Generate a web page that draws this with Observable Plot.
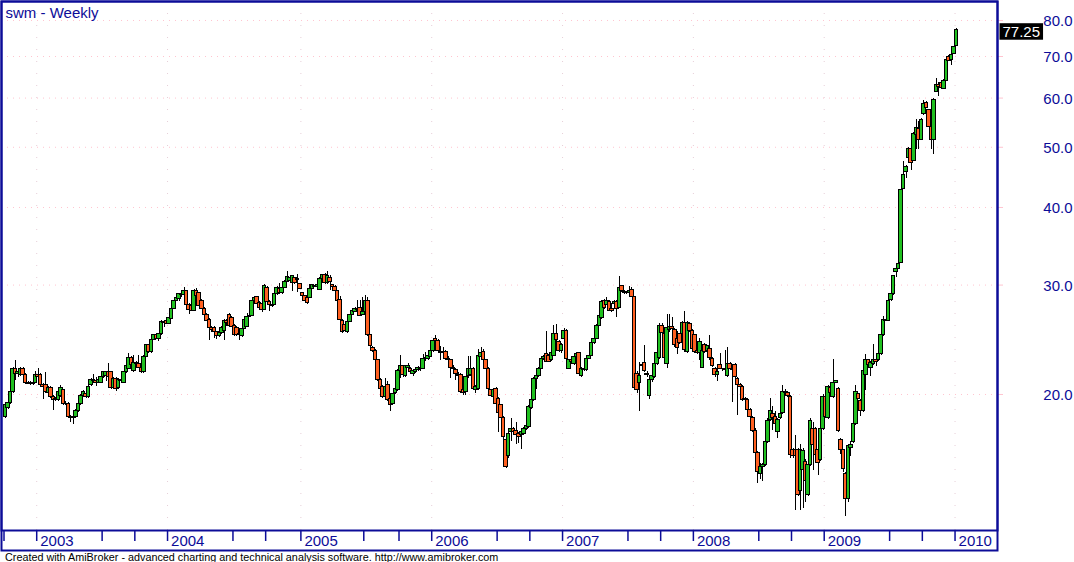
<!DOCTYPE html>
<html><head><meta charset="utf-8">
<script src="https://cdn.jsdelivr.net/npm/d3@7"></script>
<script src="https://cdn.jsdelivr.net/npm/@observablehq/plot@0.6"></script>
<style>
html,body{margin:0;padding:0;background:#fff;}
#chart svg{display:block;}
#caption{font-family:"Liberation Sans",Arial,sans-serif;font-size:10.8px;line-height:11px;height:11px;padding-left:5px;color:#000;white-space:nowrap;}
</style></head><body>
<div id="chart"></div>
<div id="caption"></div>
<script>
const title = "swm - Weekly";
const caption = "Created with AmiBroker - advanced charting and technical analysis software. http://www.amibroker.com";

const open = [
18.4,19.0,19.4,20.2,22.0,21.6,21.5,22.0,21.5,20.9,
20.8,20.8,20.9,21.5,21.5,20.7,20.7,20.1,20.5,19.8,
19.6,19.6,19.9,20.3,19.3,19.3,18.4,18.3,18.4,18.8,
19.3,19.9,20.0,19.8,20.7,21.1,21.0,20.9,20.9,21.3,
21.4,21.7,21.7,20.5,21.2,20.5,21.1,20.9,21.7,22.0,
22.9,21.8,22.5,22.4,22.1,21.7,23.0,24.0,23.4,24.5,
24.9,24.6,25.0,26.2,26.3,26.0,26.5,27.5,28.3,28.5,
29.0,28.9,29.3,27.9,27.8,27.3,29.3,29.1,28.3,27.5,
26.9,26.4,25.6,25.6,25.2,24.8,25.1,25.3,26.3,26.9,
26.6,25.8,25.6,24.9,24.8,25.5,25.7,26.7,26.8,28.3,
28.7,28.1,28.0,27.4,29.7,28.2,27.8,27.9,29.0,29.6,
29.1,29.7,30.4,30.5,30.2,30.8,30.6,30.1,29.1,28.8,
28.6,28.6,29.6,29.9,29.8,29.5,30.7,31.1,30.2,30.8,
30.0,29.8,29.3,28.4,26.3,25.9,25.2,26.2,26.9,27.2,
27.5,27.6,26.9,27.2,28.3,24.9,23.8,23.5,22.7,21.1,
20.6,19.8,20.7,19.7,19.3,20.1,20.3,21.8,22.2,21.4,
22.1,22.0,21.6,21.7,21.9,22.1,22.0,22.8,22.8,23.0,
23.5,24.6,24.4,23.4,23.3,23.4,22.8,22.7,22.1,21.9,
21.5,21.5,20.3,20.2,21.4,21.5,22.0,20.3,20.4,23.0,
23.4,22.7,22.0,20.3,19.8,20.4,19.7,19.2,18.3,16.9,
15.9,17.4,17.6,17.5,17.3,17.2,17.3,17.6,17.7,19.0,
19.6,21.2,21.4,22.0,22.8,23.2,23.1,22.7,23.1,25.0,
24.3,23.5,24.6,25.3,22.0,22.7,22.4,23.0,23.3,21.4,
22.0,21.9,22.8,23.1,24.2,24.6,25.8,26.6,28.3,27.9,
28.2,27.5,28.0,28.2,27.6,29.9,29.2,29.1,29.1,29.5,
28.7,21.6,20.9,22.2,22.5,21.6,19.9,21.1,21.3,22.4,
22.9,25.8,25.0,22.4,25.4,25.7,25.4,24.6,25.0,25.0,
26.1,23.4,26.0,25.3,24.9,23.5,23.3,22.1,24.0,23.5,
23.7,22.8,22.0,21.5,22.3,21.9,21.9,21.4,22.4,22.0,
22.3,21.2,20.7,20.6,19.7,19.6,18.9,18.3,17.5,16.1,
14.9,15.3,15.4,16.8,18.2,18.6,18.4,17.4,18.3,18.7,
20.2,20.1,19.8,16.3,16.3,16.3,14.0,15.1,15.6,13.8,
15.4,17.6,17.6,16.3,15.7,17.6,19.8,18.3,20.5,19.8,
20.9,20.4,16.9,16.3,14.9,13.6,16.4,16.8,17.9,20.0,
19.5,18.8,21.5,22.7,22.1,22.4,22.7,22.7,23.2,24.9,
26.3,26.3,28.4,29.0,31.5,31.9,32.6,42.8,45.6,48.0,
49.7,47.5,52.3,53.5,51.3,56.5,59.0,57.5,54.0,51.3,
61.3,63.0,63.5,62.0,64.0,69.8,69.2,70.7,72.8];

const high = [
19.3,19.5,20.3,22.1,22.7,22.0,22.1,22.1,21.6,21.0,
21.0,20.9,21.8,22.0,21.6,20.8,21.7,20.6,20.6,19.9,
19.8,20.2,20.7,20.4,19.5,19.4,18.5,18.5,18.9,19.4,
20.0,20.3,20.1,20.7,21.2,21.5,21.3,21.2,21.5,21.8,
21.8,22.4,21.8,21.3,21.3,21.2,21.2,21.8,22.3,23.3,
23.0,23.1,22.6,23.1,22.2,23.1,24.1,24.1,24.6,25.0,
25.0,25.1,26.3,26.3,26.4,26.7,27.6,28.4,28.8,29.1,
29.1,29.7,29.4,28.0,27.9,29.5,29.6,29.2,28.4,27.6,
27.0,26.5,25.7,25.7,25.3,25.2,25.7,26.4,26.4,27.0,
26.7,25.9,25.7,25.1,25.6,26.5,27.0,26.9,28.4,28.8,
28.8,28.2,28.1,30.1,29.8,28.3,28.0,29.1,29.8,30.2,
29.8,30.5,31.6,30.9,31.1,30.9,31.2,30.2,29.2,28.9,
28.7,30.1,30.1,30.0,30.4,30.8,31.2,31.3,31.5,31.1,
30.1,29.9,29.4,28.8,26.4,26.0,26.3,27.0,27.4,27.6,
28.3,28.3,28.6,28.9,28.7,25.0,23.9,23.6,22.8,21.2,
20.7,21.2,21.0,19.8,20.1,20.5,21.9,23.1,22.3,22.3,
22.4,22.1,21.9,22.0,22.2,22.2,23.2,23.4,23.2,23.6,
24.5,24.9,24.5,23.9,23.8,23.5,23.0,22.8,22.3,22.0,
21.7,21.6,20.4,21.4,23.0,23.0,22.1,20.7,23.6,23.8,
23.6,22.8,22.1,20.4,20.4,20.5,19.8,19.3,18.4,17.0,
17.6,18.3,17.7,18.0,17.4,17.5,17.7,17.9,19.2,19.7,
21.3,21.5,22.1,22.9,23.1,25.3,23.2,23.6,25.8,25.9,
24.4,24.2,25.5,25.4,22.8,22.8,23.1,23.3,23.4,22.1,
22.1,22.9,23.2,24.3,24.7,25.9,26.9,28.3,28.4,28.6,
28.3,28.0,28.3,28.3,31.0,30.0,29.4,29.3,29.8,29.7,
28.8,21.8,22.5,22.4,24.0,21.8,21.2,21.6,22.6,23.4,
26.0,26.0,25.1,26.9,26.9,26.6,25.5,25.3,25.1,26.2,
27.2,26.2,26.1,25.4,24.9,23.6,24.6,23.6,24.2,24.0,
24.9,22.9,22.1,21.9,23.3,22.0,23.5,23.8,22.5,22.1,
22.4,21.3,20.8,20.7,19.8,19.7,19.0,18.4,17.6,16.2,
15.5,15.5,16.9,18.3,19.7,19.1,18.8,18.3,18.7,20.7,
20.4,20.2,19.9,16.4,17.2,16.4,16.6,16.4,15.7,15.4,
18.3,18.0,17.7,16.4,17.8,20.0,19.9,20.7,20.6,22.8,
21.1,20.5,17.0,16.3,15.0,16.6,16.8,18.3,20.7,20.1,
19.6,22.1,23.2,22.8,22.6,24.1,22.8,23.6,25.0,26.7,
26.5,28.4,29.4,31.1,31.9,32.9,42.8,47.5,46.7,50.0,
49.8,52.8,55.4,55.0,55.6,59.5,59.2,57.6,54.1,60.0,
64.5,63.5,63.6,64.3,69.1,70.2,70.6,72.6,77.6];

const low = [
18.3,18.9,19.3,20.1,21.1,21.3,21.4,21.4,20.8,20.8,
20.7,20.7,20.8,20.8,20.6,19.6,20.1,20.0,19.7,18.85,
19.5,19.5,19.8,19.2,19.2,18.3,18.0,17.9,18.3,18.7,
19.2,19.8,19.7,19.7,20.6,20.8,20.6,20.8,20.8,21.2,
21.0,21.2,20.4,20.4,20.2,20.4,20.9,20.8,21.6,21.9,
22.2,21.7,22.3,22.0,21.6,21.6,22.9,23.3,23.3,24.4,
24.5,24.3,24.9,25.6,25.9,25.9,26.4,27.4,28.2,28.2,
28.7,28.8,27.8,26.9,27.2,27.2,28.7,27.7,27.4,26.8,
26.2,24.4,25.2,24.6,24.5,24.7,25.0,24.4,25.7,25.7,
25.6,24.8,24.8,24.4,24.7,25.4,25.6,26.6,26.7,28.2,
27.9,27.5,27.1,27.3,28.1,27.2,27.6,27.8,28.9,29.0,
29.0,29.6,30.3,30.4,29.3,30.1,29.2,29.5,28.6,28.2,
27.9,28.5,29.5,29.7,29.7,29.4,30.6,30.1,30.1,29.4,
29.7,29.3,28.2,26.3,25.1,25.2,25.1,26.1,26.8,27.1,
27.0,26.7,26.8,27.1,24.8,23.8,23.4,22.6,21.0,20.2,
19.7,19.7,19.5,18.8,19.2,20.0,20.2,21.2,21.3,21.3,
21.9,21.5,21.4,21.6,21.8,21.8,21.9,22.6,22.7,22.9,
23.4,24.3,23.4,22.7,22.9,22.7,22.3,21.2,21.8,21.1,
21.2,20.1,19.9,19.9,21.2,21.4,20.3,20.1,20.3,22.9,
22.6,21.9,20.3,19.8,19.7,19.2,17.4,18.2,16.9,15.2,
15.8,16.8,17.2,16.6,16.7,16.3,17.2,17.5,17.6,18.9,
19.5,20.4,21.3,21.9,22.7,22.5,22.5,22.6,23.0,24.3,
23.4,23.3,24.4,22.6,21.9,22.5,22.3,22.9,21.5,21.3,
21.8,21.8,22.8,23.0,24.1,24.5,25.7,26.4,27.4,27.8,
27.2,27.1,27.9,26.6,27.5,29.2,29.0,29.0,28.9,28.6,
20.4,20.1,18.8,22.1,21.7,21.3,19.6,20.9,21.2,22.3,
22.8,25.0,22.8,22.0,25.2,25.4,23.8,23.2,24.1,24.9,
23.4,23.3,25.2,23.6,23.3,23.2,22.7,22.0,23.3,23.1,
22.7,22.1,21.3,21.0,21.9,21.8,21.8,21.3,21.9,19.4,
21.2,18.5,20.5,19.5,19.5,18.8,18.3,17.4,15.9,14.4,
14.6,14.5,15.3,16.7,18.1,17.5,17.7,17.0,18.2,18.6,
20.0,19.8,15.8,15.8,13.0,13.7,13.0,13.1,13.4,13.7,
15.3,15.1,15.5,14.8,15.6,17.5,18.3,18.2,20.0,19.7,
20.8,17.4,16.0,15.0,12.7,13.4,15.9,16.7,17.8,19.6,
18.4,18.7,20.3,22.2,21.4,22.3,22.2,22.6,23.1,24.8,
26.2,26.2,28.2,28.9,30.8,31.8,32.5,42.7,44.6,47.8,
45.8,47.4,49.6,49.6,51.2,56.3,57.7,53.9,49.5,48.6,
61.2,60.4,62.2,61.9,63.9,68.8,67.8,70.6,72.7];

const close = [
19.2,19.4,20.2,22.0,21.6,21.7,22.0,21.5,20.9,20.8,
20.8,20.9,21.5,21.3,20.7,20.6,20.2,20.5,19.8,19.6,
19.7,20.2,20.5,19.3,19.3,18.4,18.3,18.4,18.8,19.3,
19.9,20.2,19.8,20.6,21.1,21.0,20.9,21.1,21.3,21.7,
21.7,21.3,20.5,21.2,20.4,21.1,21.0,21.7,22.2,22.9,
22.3,22.5,22.4,22.1,21.7,23.0,24.0,23.4,24.5,24.9,
24.6,25.0,26.2,26.1,26.0,26.6,27.5,28.3,28.6,29.0,
28.9,29.4,27.9,27.4,27.3,29.4,28.8,27.8,27.5,26.9,
26.3,25.6,25.4,25.2,24.8,25.1,25.6,26.3,26.1,25.8,
25.7,24.9,24.9,25.0,25.5,26.4,26.7,26.8,28.3,28.6,
28.0,27.6,27.4,29.9,28.2,27.9,27.9,29.0,29.7,29.1,
29.7,30.4,30.9,30.8,31.0,30.2,30.7,29.6,28.8,28.3,
28.1,29.6,30.0,29.8,30.0,30.7,31.1,30.2,31.0,30.3,
29.8,29.4,28.3,26.4,25.2,25.3,26.2,26.9,27.3,27.5,
27.4,26.8,27.2,28.3,24.9,23.9,23.5,22.7,21.1,20.4,
19.8,20.6,19.6,19.2,20.0,20.4,21.8,22.2,21.5,22.2,
22.2,21.7,21.8,21.9,22.1,22.0,22.8,22.9,23.1,23.5,
24.4,24.4,23.5,23.3,23.3,22.8,22.7,22.1,22.0,21.6,
21.4,20.2,20.1,21.3,22.0,22.0,20.4,20.6,23.1,23.3,
22.7,22.0,20.4,19.9,20.3,19.3,18.7,18.3,17.1,15.3,
17.3,17.6,17.4,17.2,17.1,17.4,17.6,17.8,19.1,19.6,
21.2,21.4,22.0,22.8,23.0,22.6,22.6,23.3,25.0,24.5,
23.5,24.0,25.3,22.8,22.7,22.6,23.0,23.2,21.6,22.0,
21.9,22.8,23.1,24.2,24.6,25.8,26.8,28.2,27.6,28.3,
27.3,27.3,28.2,27.5,29.7,29.3,29.1,29.2,29.3,28.7,
20.5,20.3,21.4,22.3,21.8,21.5,21.1,21.4,22.4,23.3,
25.8,25.1,22.9,25.6,25.7,25.5,24.0,23.8,24.2,26.1,
23.6,26.1,25.3,23.7,23.4,23.3,24.3,23.5,23.4,23.9,
22.9,22.2,21.5,21.7,22.0,21.9,22.0,22.4,22.0,21.9,
21.3,20.7,20.6,19.6,19.6,18.9,18.4,17.5,16.1,15.0,
15.3,15.4,16.8,18.1,18.8,18.3,17.9,18.2,18.6,20.2,
20.1,19.9,16.0,15.9,15.9,13.8,16.3,16.2,14.5,15.4,
18.1,16.6,16.0,15.5,17.6,19.8,18.4,20.6,20.1,20.9,
21.0,17.5,16.3,15.2,13.6,16.5,16.6,17.9,20.2,19.7,
18.8,21.8,22.7,22.3,22.5,22.7,22.6,23.2,24.9,26.4,
26.4,28.3,29.0,31.0,31.8,32.4,42.7,45.2,46.5,49.6,
47.2,52.6,53.8,51.3,55.4,58.7,57.8,54.0,51.3,59.5,
63.0,62.5,62.3,64.0,69.0,68.9,70.5,72.5,77.25];

const yTicks = [20, 30, 40, 50, 60, 70, 80];
const yearTicks = [13, 65, 118, 170, 222, 274, 326, 378];
const yearLabels = ["2003", "2004", "2005", "2006", "2007", "2008", "2009", "2010"];
const quarterTicks = [0, 13, 39, 52, 65, 91, 104, 118, 143, 157, 170, 196, 209, 222, 248, 261, 274, 300, 313, 326, 352, 365, 378];

const navy = "#0c0c98";
const upColor = "#20c020";
const downColor = "#ff6020";
const gridColor = "#ffc4cf";

const bars = close.map((c, i) => ({i, o: open[i], h: high[i], l: low[i], c}));
const last = bars.length - 1;

const chart = Plot.plot({
  width: 1074,
  height: 552,
  marginLeft: 1,
  marginRight: 77,
  marginTop: 1,
  marginBottom: 22,
  style: {fontFamily: '"Liberation Sans", Arial, sans-serif', fontSize: "15px", background: "#fff"},
  x: {domain: [-1.59, 394.28], label: null},
  y: {type: "log", domain: [12.08, 85.83], label: null},
  marks: [
    Plot.ruleY(yTicks, {y: d => d, stroke: gridColor, strokeDasharray: "1,5"}),
    Plot.ruleX(yearTicks, {x: d => d, dx: -1.5, stroke: "#e6cfd8", strokeDasharray: "1,11"}),
    Plot.ruleX(bars, {x: "i", y1: "l", y2: "h", stroke: "#000", strokeWidth: 1, shapeRendering: "crispEdges"}),
    Plot.rect(bars, {x1: d => d.i - 0.7, x2: d => d.i + 0.7, y1: "o", y2: "c",
      fill: d => (d.c >= d.o ? upColor : downColor), stroke: "#000", strokeWidth: 1, shapeRendering: "crispEdges"}),
    Plot.axisY({ticks: yTicks, anchor: "right", tickSize: 5, tickFormat: () => "", stroke: gridColor, label: null}),
    Plot.axisY({ticks: yTicks, anchor: "right", tickSize: 0, tickPadding: 75, textAnchor: "end",
      tickFormat: d => d.toFixed(1), fill: navy, dy: 1, label: null}),
    Plot.axisX({ticks: quarterTicks, anchor: "bottom", tickSize: 11, tickFormat: () => "", stroke: navy,
      strokeWidth: 1.5, dx: -1.5, label: null}),
    Plot.axisX({ticks: yearTicks, anchor: "bottom", tickSize: 0, tickPadding: 5, textAnchor: "start",
      tickFormat: d => yearLabels[yearTicks.indexOf(d)], fill: navy, dx: 2, label: null}),
    Plot.frame({stroke: navy, strokeWidth: 2}),
    Plot.frame({stroke: navy, strokeWidth: 2, insetBottom: -20}),
    Plot.text([title], {text: d => d, frameAnchor: "top-left", dx: 4, dy: 5.5, lineAnchor: "top", fill: navy}),
    Plot.text([last], {frameAnchor: "right", y: i => close[i], text: i => close[i].toFixed(2),
      textAnchor: "start", dx: 5, dy: 2, fill: "#fff", className: "lastlabel"})
  ]
});

document.getElementById("chart").appendChild(chart);
document.getElementById("caption").textContent = caption;

// black box behind the last-price label, sharing the text's own transform
const lbl = chart.querySelector(".lastlabel text");
if (lbl) {
  const bb = lbl.getBBox();
  const r = d3.select(lbl.parentNode).insert("rect", "text")
    .attr("x", bb.x - 3).attr("y", bb.y + 0.5)
    .attr("width", bb.width + 6).attr("height", bb.height - 0.5)
    .attr("fill", "#000");
  const tf = lbl.getAttribute("transform");
  if (tf) r.attr("transform", tf);
}
</script>
</body></html>
